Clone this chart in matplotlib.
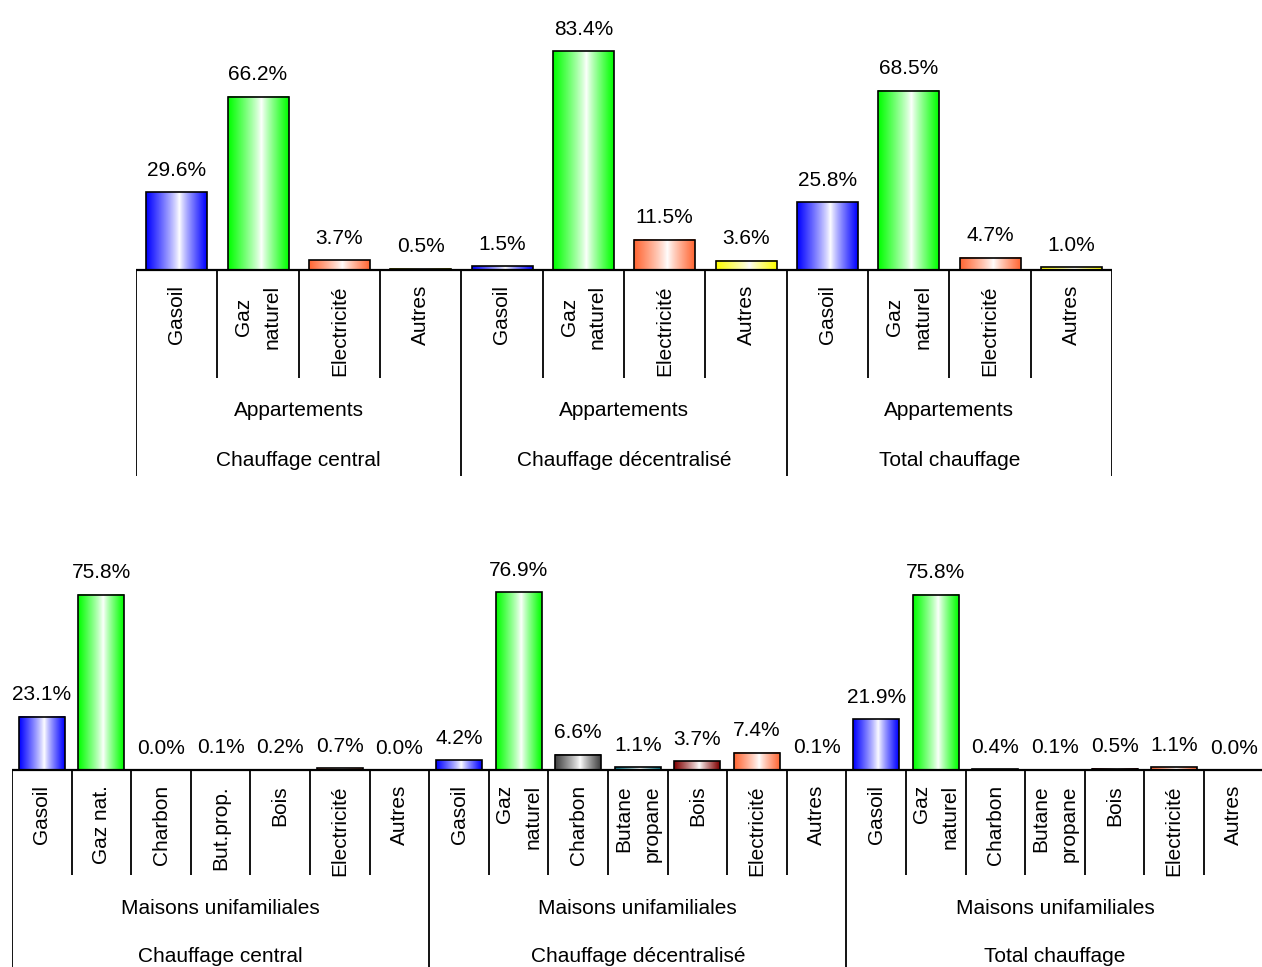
import numpy as np
import matplotlib.pyplot as plt
import matplotlib.colors as mcolors

# ---------------------------------------------
# Données : parts des agents énergétiques (%)
# ---------------------------------------------
groupes = ["Chauffage central", "Chauffage décentralisé", "Total chauffage"]

# Appartements
cat_app = ["Gasoil", "Gaz\nnaturel", "Electricité", "Autres"]
app_central = [29.6, 66.2, 3.7, 0.5]
app_decentral = [1.5, 83.4, 11.5, 3.6]
app_total = [25.8, 68.5, 4.7, 1.0]
coul_app = ["#0000FF", "#00FF00", "#FF6633", "#FFFF00"]

# Maisons unifamiliales
cat_mais_central = ["Gasoil", "Gaz nat.", "Charbon", "But.prop.", "Bois", "Electricité", "Autres"]
cat_mais = ["Gasoil", "Gaz\nnaturel", "Charbon", "Butane\npropane", "Bois", "Electricité", "Autres"]
mais_central = [23.1, 75.8, 0.0, 0.1, 0.2, 0.7, 0.0]
mais_decentral = [4.2, 76.9, 6.6, 1.1, 3.7, 7.4, 0.1]
mais_total = [21.9, 75.8, 0.4, 0.1, 0.5, 1.1, 0.0]
coul_mais = ["#0000FF", "#00FF00", "#404040", "#007080", "#800000", "#FF6633", "#FFFF00"]

# ---------------------------------------------
# Mise en page (pixels)
# ---------------------------------------------
W, H = 1262, 967
FONT = "Liberation Sans"
FS = 15

fig = plt.figure(figsize=(W / 100, H / 100), dpi=100)


def panneau(gauche, droite, haut, base, bas, k):
    """Axe dont l'origine des barres est a la ligne 'base' (px), k = px par %."""
    ax = fig.add_axes([gauche / W, 1 - bas / H, (droite - gauche) / W, (bas - haut) / H])
    ax.axis("off")
    ylim = (-(bas - base) / k, (base - haut) / k)
    return ax, ylim


def degrade(couleur, n=96, centre=0.55):
    """Degrade horizontal : couleur sur les bords, blanc au centre."""
    rgb = np.array(mcolors.to_rgb(couleur))
    t = np.linspace(0, 1, n)
    d = np.where(t < centre, (centre - t) / centre, (t - centre) / (1 - centre))
    d = d ** 0.85
    img = (1 - d)[:, None] * np.ones(3) + d[:, None] * rgb
    return img[None, :, :]


def dessiner(ax, ylim, k, libelles, valeurs, couleurs, titre_haut, largeur,
             sep_court, y_lig1, y_lig2, multialign, sep_bas):
    ncat = len(libelles[0])
    ntot = ncat * len(valeurs)
    for g, (labs, vals) in enumerate(zip(libelles, valeurs)):
        for i, (lab, v) in enumerate(zip(labs, vals)):
            x = g * ncat + i + 0.5
            # remplissage en degrade
            ax.imshow(degrade(couleurs[i]), extent=[x - largeur / 2, x + largeur / 2, 0, v],
                      aspect="auto", zorder=2, interpolation="bilinear")
            ax.bar(x, v, largeur, facecolor="none", edgecolor="black", lw=1.2, zorder=3)
            ax.annotate(f"{v:.1f}%", (x, v), xytext=(0, 9), textcoords="offset points",
                        ha="center", va="bottom", fontsize=FS, family=FONT)
            ax.text(x, -15 / k, lab, rotation=90, ha="center", va="top",
                    fontsize=FS, family=FONT, linespacing=1.6, multialignment=multialign)
        xc = g * ncat + ncat / 2
        ax.text(xc, -y_lig1 / k, titre_haut, ha="center", va="center", fontsize=FS, family=FONT)
        ax.text(xc, -y_lig2 / k, groupes[g], ha="center", va="center", fontsize=FS, family=FONT)

    # separateurs de categories et de groupes
    for b in range(ntot + 1):
        if b % ncat == 0:
            ax.vlines(b, -sep_bas / k, 0, color="black", lw=1.3, zorder=4)
        else:
            ax.vlines(b, -sep_court / k, 0, color="black", lw=1.3, zorder=4)
    ax.axhline(0, color="black", lw=1.6, zorder=5)
    ax.set_xlim(0, ntot)
    ax.set_ylim(*ylim)


# Panneau du haut : appartements
k1 = 2.62
ax1, lim1 = panneau(136, 1112, 10, 270, 476, k1)
dessiner(ax1, lim1, k1, [cat_app] * 3, [app_central, app_decentral, app_total],
         coul_app, "Appartements", 0.75, 108, 141, 191, "center", 206)

# Panneau du bas : maisons unifamiliales
k2 = 2.31
ax2, lim2 = panneau(12, 12 + 21 * 59.6, 540, 770, 967, k2)
dessiner(ax2, lim2, k2, [cat_mais_central, cat_mais, cat_mais],
         [mais_central, mais_decentral, mais_total],
         coul_mais, "Maisons unifamiliales", 0.77, 105, 139, 186, "right", 200)

fig.savefig("out.png", dpi=100, facecolor="white")
